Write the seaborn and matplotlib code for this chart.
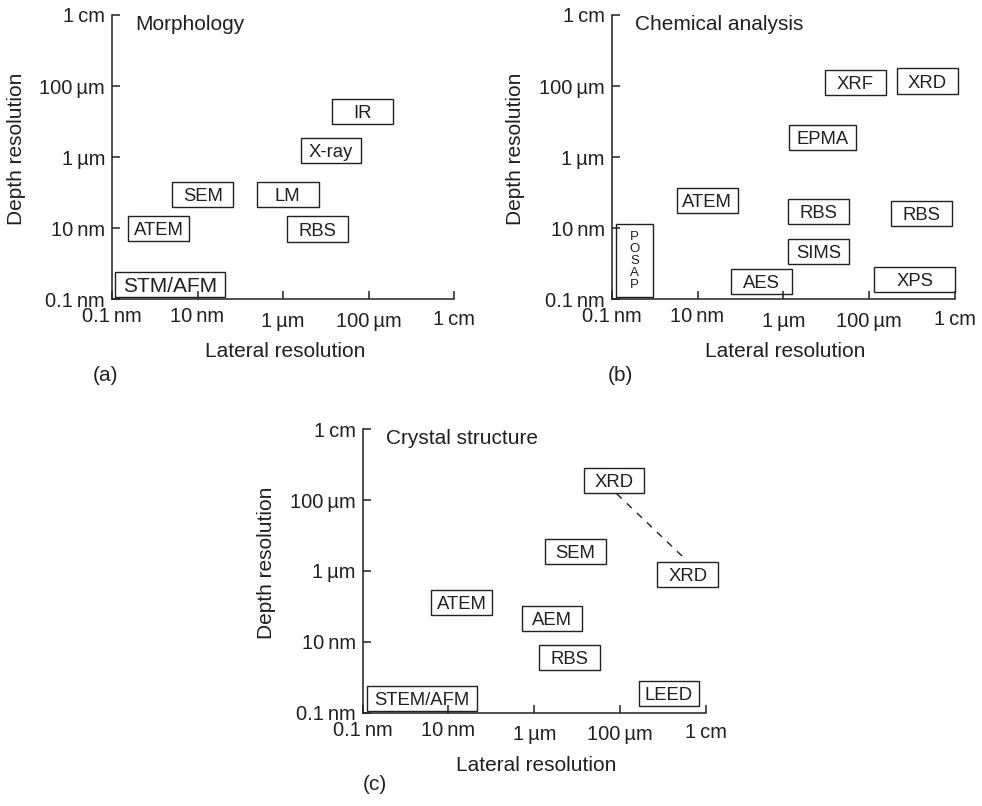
import matplotlib
matplotlib.use("Agg")
import matplotlib.pyplot as plt
from matplotlib.patches import Rectangle
from matplotlib.transforms import ScaledTranslation
import seaborn as sns

# Resolution ranges of each technique, as log10 of the length in metres.
# (a) Morphology
morph_labels = ["IR", "X-ray", "SEM", "LM", "ATEM", "RBS", "STM/AFM"]
morph_lat_lo = [-4.86, -5.59, -8.59, -6.62, -9.62, -5.91, -9.92]
morph_lat_hi = [-3.43, -4.17, -7.16, -5.16, -8.20, -4.47, -7.35]
morph_dep_lo = [-5.07, -6.18, -7.41, -7.42, -8.37, -8.39, -9.94]
morph_dep_hi = [-4.36, -5.46, -6.70, -6.71, -7.66, -7.67, -9.23]

# (b) Chemical analysis
chem_labels = ["XRF", "XRD", "EPMA", "ATEM", "RBS", "RBS", "SIMS", "AES", "XPS", "POSAP"]
chem_lat_lo = [-5.03, -3.36, -5.87, -8.48, -5.88, -3.50, -5.88, -7.21, -3.88, -9.90]
chem_lat_hi = [-3.61, -1.94, -4.30, -7.06, -4.47, -2.07, -4.47, -5.80, -1.99, -9.03]
chem_dep_lo = [-4.26, -4.22, -5.80, -7.59, -7.88, -7.94, -9.02, -9.87, -9.81, -9.94]
chem_dep_hi = [-3.55, -3.50, -5.09, -6.88, -7.17, -7.23, -8.31, -9.16, -9.10, -7.90]

# (c) Crystal structure
cryst_labels = ["XRD", "XRD", "SEM", "ATEM", "AEM", "RBS", "STEM/AFM", "LEED"]
cryst_lat_lo = [-4.84, -3.13, -5.76, -8.40, -6.29, -5.89, -9.91, -3.57]
cryst_lat_hi = [-3.44, -1.72, -4.34, -6.99, -4.89, -4.48, -7.34, -2.16]
cryst_dep_lo = [-3.80, -6.46, -5.80, -7.24, -7.70, -8.79, -9.94, -9.81]
cryst_dep_hi = [-3.09, -5.75, -5.09, -6.53, -6.99, -8.09, -9.24, -9.10]
# dashed link between the two XRD regimes
xrd_link_lat = [-4.08, -2.46]
xrd_link_dep = [-3.82, -5.69]

tick_exps = [-10, -8, -6, -4, -2]
tick_labels = ["0.1\u2009nm", "10\u2009nm", "1\u2009\u00b5m", "100\u2009\u00b5m", "1\u2009cm"]

INK = "#231f20"

sns.set_theme(style="ticks")
plt.rcParams["font.family"] = ["Liberation Sans", "DejaVu Sans"]
plt.rcParams["text.color"] = INK
plt.rcParams["axes.edgecolor"] = INK
plt.rcParams["xtick.color"] = INK
plt.rcParams["ytick.color"] = INK


def draw_panel(fig, ax, title, letter, labels, lat_lo, lat_hi, dep_lo, dep_hi):
    ax.set_xscale("log")
    ax.set_yscale("log")
    ax.set_xlim(10.0 ** -10, 10.0 ** -2)
    ax.set_ylim(10.0 ** -10, 10.0 ** -2)
    ax.set_facecolor("none")
    ticks = [10.0 ** e for e in tick_exps]
    ax.set_xticks(ticks)
    ax.set_yticks(ticks)
    ax.set_xticklabels(tick_labels)
    ax.set_yticklabels(tick_labels)
    ax.minorticks_off()
    ax.tick_params(axis="both", direction="in", length=5.8, width=1.1,
                   labelsize=14.5, labelcolor=INK, color=INK)
    ax.tick_params(axis="x", pad=6)
    ax.tick_params(axis="y", pad=5)
    sns.despine(ax=ax)
    for s in ("left", "bottom"):
        ax.spines[s].set_linewidth(1.1)
        ax.spines[s].set_color(INK)

    # the micro and centimetre labels sit a little lower on the lateral axis
    for lab in ax.get_xticklabels():
        txt = lab.get_text()
        drop = 4.5 if "\u00b5" in txt else (2.5 if "cm" in txt else 0.0)
        if drop:
            lab.set_transform(lab.get_transform() +
                              ScaledTranslation(0, -drop / 100.0, fig.dpi_scale_trans))

    for name, x0, x1, y0, y1 in zip(labels, lat_lo, lat_hi, dep_lo, dep_hi):
        X0, X1, Y0, Y1 = 10.0 ** x0, 10.0 ** x1, 10.0 ** y0, 10.0 ** y1
        ax.add_patch(Rectangle((X0, Y0), X1 - X0, Y1 - Y0, fill=False,
                               lw=1.0, ec=INK, clip_on=False, zorder=3))
        xc = 10.0 ** ((x0 + x1) / 2)
        yc = 10.0 ** ((y0 + y1) / 2)
        if name == "POSAP":
            ax.text(xc, yc, "\n".join(name), ha="center", va="center",
                    fontsize=9.5, linespacing=1.0, clip_on=False)
        else:
            size = 15 if name == "STM/AFM" else 13.3
            ax.text(xc, yc, name, ha="center", va="center_baseline",
                    fontsize=size, clip_on=False)

    ax.text(0.068, 0.968, title, transform=ax.transAxes, ha="left",
            va="center", fontsize=15)
    ax.text(-0.28, 0.528, "Depth resolution", transform=ax.transAxes,
            rotation=90, ha="center", va="center", fontsize=15)
    ax.text(0.506, -0.186, "Lateral resolution", transform=ax.transAxes,
            ha="center", va="center", fontsize=15)
    ax.text(letter[1], letter[2], letter[0], transform=ax.transAxes,
            ha="center", va="center", fontsize=15)


fig = plt.figure(figsize=(9.82, 8.06), dpi=100)
ax_a = fig.add_axes([0.1141, 0.6290, 0.3483, 0.3524])
ax_b = fig.add_axes([0.6229, 0.6290, 0.3496, 0.3524])
ax_c = fig.add_axes([0.3693, 0.1158, 0.3496, 0.3516])

draw_panel(fig, ax_a, "Morphology", ("(a)", -0.020, -0.270),
           morph_labels, morph_lat_lo, morph_lat_hi, morph_dep_lo, morph_dep_hi)
draw_panel(fig, ax_b, "Chemical analysis", ("(b)", 0.026, -0.270),
           chem_labels, chem_lat_lo, chem_lat_hi, chem_dep_lo, chem_dep_hi)
draw_panel(fig, ax_c, "Crystal structure", ("(c)", 0.036, -0.255),
           cryst_labels, cryst_lat_lo, cryst_lat_hi, cryst_dep_lo, cryst_dep_hi)

sns.lineplot(x=[10.0 ** v for v in xrd_link_lat],
             y=[10.0 ** v for v in xrd_link_dep],
             ax=ax_c, color=INK, lw=1.0, sort=False, estimator=None,
             dashes=False, linestyle=(0, (5, 5)))

fig.savefig("out.png", dpi=100)
